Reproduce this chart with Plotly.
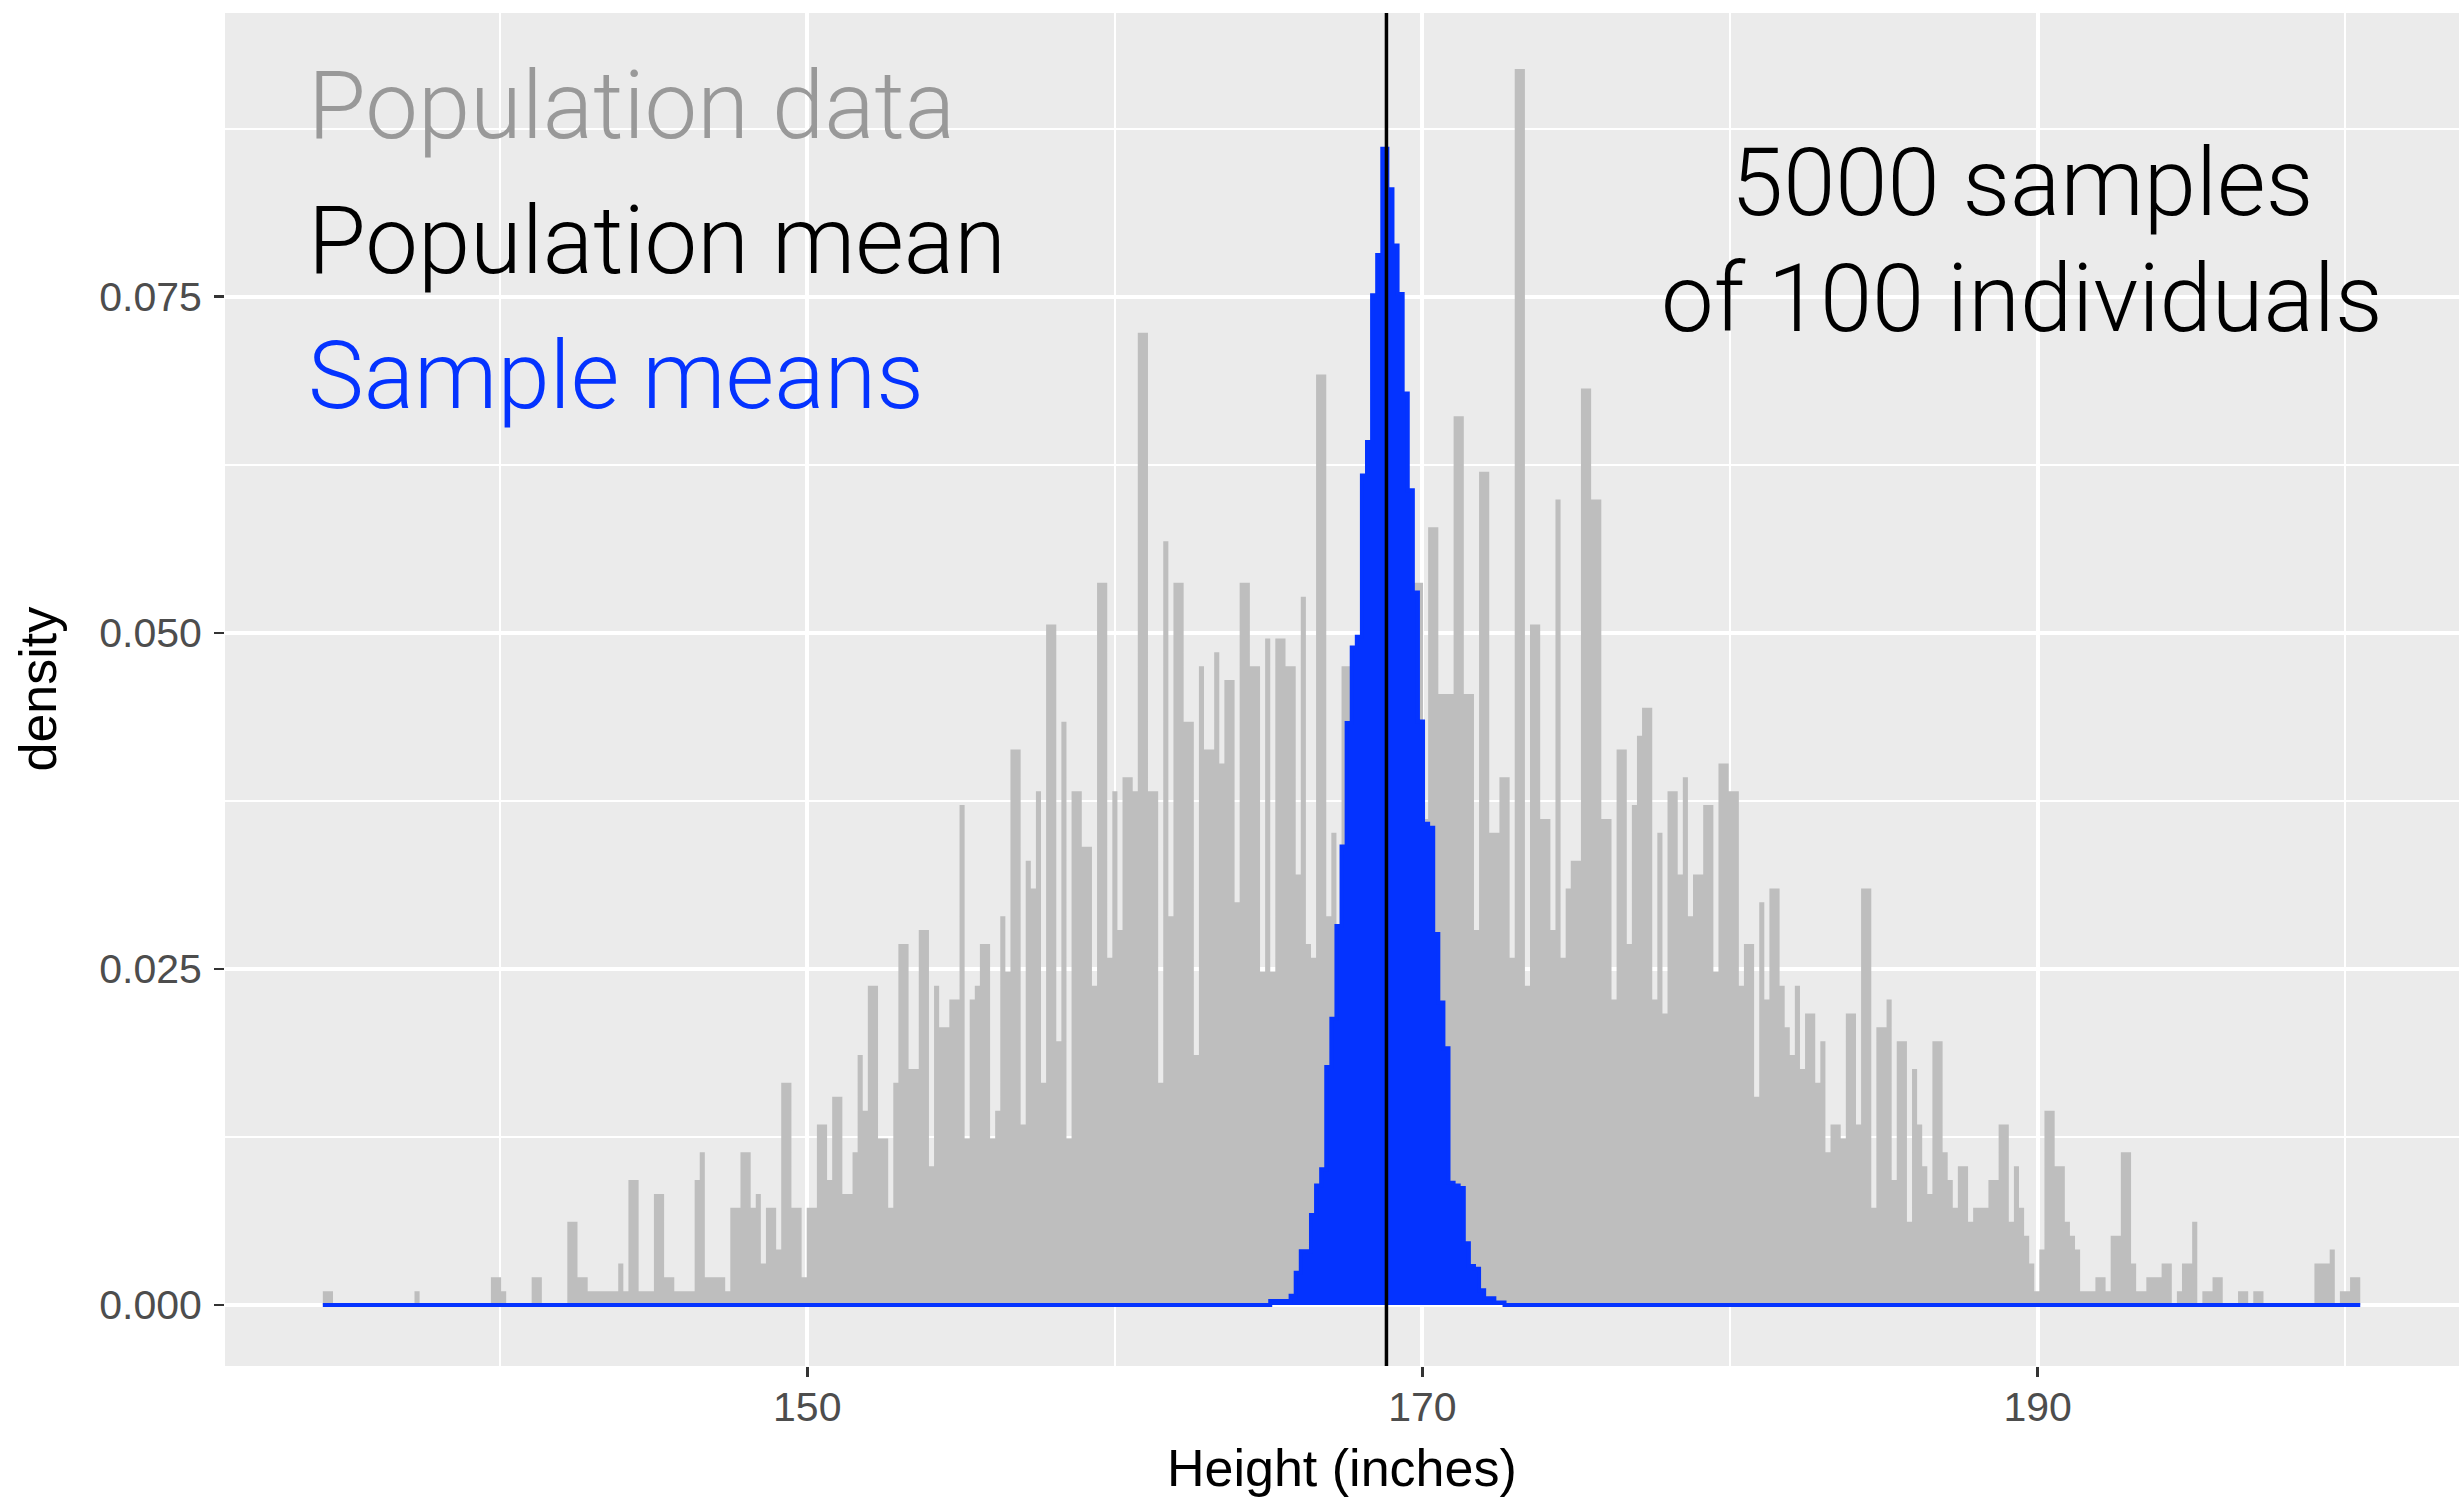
import numpy as np
import plotly.graph_objects as go

# ---------------- data ----------------
BIN_LEFT = 134.25          # left edge of first bin
BIN_WIDTH = 0.1656         # width of every bin
N_BINS = 400
DENSITY_PER_COUNT = 0.001033
POP_MEAN = 168.83

# population counts per bin (bins 0..399)
POP_COUNTS = [
    1, 1, 0, 0, 0, 0, 0, 0, 0, 0, 0, 0, 0, 0, 0, 0, 0, 0, 1, 0,          # 0-19
    0, 0, 0, 0, 0, 0, 0, 0, 0, 0, 0, 0, 0, 2, 2, 1, 0, 0, 0, 0,          # 20-39
    0, 2, 2, 0, 0, 0, 0, 0, 6, 6, 2, 2, 1, 1, 1, 1, 1, 1, 3, 1,          # 40-59
    9, 9, 1, 1, 1, 8, 8, 2, 2, 1, 1, 1, 1, 9, 11, 2, 2, 2, 2, 1,         # 60-79
    7, 7, 11, 11, 7, 8, 3, 7, 7, 4, 16, 16, 7, 7, 2, 7, 7, 13, 13, 9,    # 80-99
    15, 15, 8, 8, 11, 18, 14, 23, 23, 12, 12, 7, 16, 26, 26, 17, 17, 27, 27, 10,  # 100-119
    23, 20, 20, 22, 22, 36, 12, 22, 23, 26, 26, 12, 14, 28, 24, 40, 40, 13, 32, 30,  # 120-139
    37, 16, 49, 49, 19, 42, 12, 37, 37, 33, 33, 23, 52, 52, 25, 37, 27, 38, 38, 37,  # 140-159
    70, 70, 37, 37, 16, 55, 28, 52, 52, 42, 42, 18, 46, 40, 40, 47, 39, 45, 45, 29,  # 160-179
    52, 52, 46, 46, 24, 48, 24, 48, 48, 46, 46, 31, 51, 26, 25, 67, 67, 28, 34, 27,  # 180-199
    46, 46, 47, 45, 46, 46, 46, 46, 46, 46, 46, 46, 46, 46, 52, 52, 35, 56, 56, 44,  # 200-219
    44, 44, 64, 64, 44, 44, 27, 60, 60, 34, 34, 38, 38, 25, 89, 89, 23, 49, 49, 35,  # 220-239
    35, 27, 58, 25, 30, 32, 32, 66, 66, 58, 58, 35, 35, 22, 40, 40, 26, 36, 41, 43,  # 240-259
    43, 22, 34, 21, 37, 37, 31, 38, 28, 31, 31, 36, 36, 24, 39, 39, 37, 37, 23, 26,  # 260-279
    26, 15, 29, 22, 30, 30, 23, 20, 18, 23, 17, 21, 21, 16, 19, 11, 13, 13, 12, 21,  # 280-299
    21, 13, 30, 30, 7, 20, 20, 22, 9, 19, 19, 6, 17, 13, 10, 8, 19, 19, 11, 9,       # 300-319
    7, 10, 10, 6, 7, 7, 7, 9, 9, 13, 13, 6, 10, 7, 5, 3, 1, 4, 14, 14,               # 320-339
    10, 10, 6, 5, 4, 1, 1, 1, 2, 2, 1, 5, 5, 11, 11, 3, 1, 1, 2, 2,                  # 340-359
    2, 3, 3, 0, 1, 3, 3, 6, 0, 1, 1, 2, 2, 0, 0, 0, 1, 1, 0, 1,                      # 360-379
    1, 0, 0, 0, 0, 0, 0, 0, 0, 0, 0, 3, 3, 3, 4, 0, 1, 1, 2, 2,                      # 380-399
]

# sample-means histogram (density), first non-empty bin index and values
SAMPLE_FIRST_BIN = 186
SAMPLE_DENSITY = [
    0.0003, 0.0003, 0.0003, 0.0003, 0.0007, 0.0024, 0.0040, 0.0040, 0.0067, 0.0089,
    0.0101, 0.0177, 0.0213, 0.0282, 0.0341, 0.0433, 0.0489, 0.0497, 0.0617, 0.0642,
    0.0751, 0.0781, 0.0860, 0.0830, 0.0788, 0.0752, 0.0678, 0.0606, 0.0530, 0.0434,
    0.0358, 0.0355, 0.0276, 0.0225, 0.0191, 0.0091, 0.0089, 0.0087, 0.0046, 0.0029,
    0.0027, 0.0011, 0.0005, 0.0005, 0.0002, 0.0002,
]

X_TICKS = [150, 170, 190]
Y_TICKS = [0.000, 0.025, 0.050, 0.075]
Y_TICK_TEXT = ["0.000", "0.025", "0.050", "0.075"]

# ---------------- build ----------------
edges = BIN_LEFT + BIN_WIDTH * np.arange(N_BINS + 1)
pop_density = np.array(POP_COUNTS, dtype=float) * DENSITY_PER_COUNT
samp = np.zeros(N_BINS)
samp[SAMPLE_FIRST_BIN:SAMPLE_FIRST_BIN + len(SAMPLE_DENSITY)] = SAMPLE_DENSITY

GREY = "#BEBEBE"
BLUE = "#0433FF"
PANEL = "#EBEBEB"

fig = go.Figure()
fig.add_trace(go.Scatter(
    x=edges, y=np.append(pop_density, pop_density[-1]),
    mode="lines", line=dict(shape="hv", width=0, color=GREY),
    fill="tozeroy", fillcolor=GREY, hoverinfo="skip", showlegend=False))
fig.add_trace(go.Scatter(
    x=edges, y=np.append(samp, samp[-1]),
    mode="lines", line=dict(shape="hv", width=4, color=BLUE),
    fill="tozeroy", fillcolor=BLUE, hoverinfo="skip", showlegend=False))

fig.add_shape(type="line", xref="x", yref="paper", x0=POP_MEAN, x1=POP_MEAN,
              y0=0, y1=1, line=dict(color="black", width=3.5))

W, H = 2462, 1497
L, R, T, B = 225, 3, 13, 131
pw, ph = W - L - R, H - T - B

def px(xp):
    return (xp - L) / pw

def py(yp):
    return 1 - (yp - T) / ph

ann_font = "Roboto, Liberation Sans, Arial, sans-serif"
tick_font = "Liberation Sans, Arial, Helvetica, sans-serif"
FS = 94
annots = [
    dict(text="Population data", x=px(306), y=py(106), color="#999999", xa="left"),
    dict(text="Population mean", x=px(306), y=py(241), color="#000000", xa="left"),
    dict(text="Sample means", x=px(306), y=py(376), color=BLUE, xa="left"),
    dict(text="5000 samples", x=px(2022), y=py(183), color="#000000", xa="center"),
    dict(text="of 100 individuals", x=px(2022), y=py(299), color="#000000", xa="center"),
]
for a in annots:
    fig.add_annotation(text=a["text"], x=a["x"], y=a["y"], xref="paper", yref="paper",
                       xanchor=a["xa"], yanchor="middle", showarrow=False,
                       font=dict(family=ann_font, size=FS, color=a["color"], weight=300))

# axis titles
fig.add_annotation(text="density", x=px(37), y=0.5, xref="paper", yref="paper",
                   textangle=-90, showarrow=False, xanchor="center", yanchor="middle",
                   font=dict(family=tick_font, size=52, color="black"))
fig.add_annotation(text="Height (inches)", x=0.5, y=py(1468), xref="paper", yref="paper",
                   showarrow=False, xanchor="center", yanchor="middle",
                   font=dict(family=tick_font, size=52, color="black"))

fig.update_layout(
    width=W, height=H, autosize=False,
    margin=dict(l=L, r=R, t=T, b=B, autoexpand=False),
    paper_bgcolor="white", plot_bgcolor=PANEL,
    showlegend=False,
    font=dict(family=tick_font),
)
fig.update_xaxes(
    automargin=False,
    range=[131.07, 203.7], tickvals=X_TICKS, ticktext=[str(v) for v in X_TICKS],
    showgrid=True, gridcolor="white", gridwidth=4, zeroline=False,
    ticks="outside", ticklen=10, tickwidth=2.5, tickcolor="#333333",
    ticklabelstandoff=-5,
    tickfont=dict(family=tick_font, size=41, color="#4D4D4D"),
    minor=dict(tickvals=[140, 160, 180, 200], showgrid=True, gridcolor="white",
               gridwidth=2, ticks=""),
    showline=False,
)
fig.update_yaxes(
    automargin=False,
    range=[-0.00453, 0.0961], tickvals=Y_TICKS, ticktext=Y_TICK_TEXT,
    showgrid=True, gridcolor="white", gridwidth=4, zeroline=False,
    ticks="outside", ticklen=10, tickwidth=2.5, tickcolor="#333333",
    ticklabelstandoff=4,
    tickfont=dict(family=tick_font, size=41, color="#4D4D4D"),
    minor=dict(tickvals=[0.0125, 0.0375, 0.0625, 0.0875], showgrid=True,
               gridcolor="white", gridwidth=2, ticks=""),
    showline=False,
)

fig.write_html("out.html", config={"displayModeBar": False, "staticPlot": True})

# remove the browser's default page margin so the figure sits at the top-left corner
with open("out.html", "r", encoding="utf-8") as f:
    html = f.read()
html = html.replace("<head>", "<head><style>html,body{margin:0;padding:0;overflow:hidden;}</style>", 1)
with open("out.html", "w", encoding="utf-8") as f:
    f.write(html)
